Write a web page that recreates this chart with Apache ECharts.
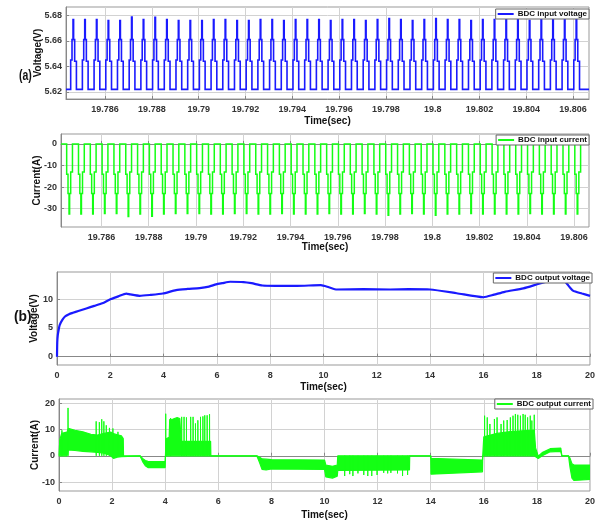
<!DOCTYPE html>
<html><head><meta charset="utf-8">
<script src="https://cdn.jsdelivr.net/npm/echarts@6/dist/echarts.min.js"></script>
<style>html,body{margin:0;padding:0;background:#fff}#c{width:598px;height:521px}</style>
</head><body><div id="c"></div>
<script>
// ---------- (a) input side: switching pulses ----------
const pulseTimes = [19.78453,19.78503,19.78553,19.78603,19.78653,19.78703,19.78753,19.78803,19.78853,19.78903,
 19.78953,19.79003,19.79053,19.79103,19.79153,19.79203,19.79253,19.79303,19.79353,19.79403,
 19.79453,19.79503,19.79553,19.79603,19.79653,19.79703,19.79753,19.79803,19.79853,19.79903,
 19.79953,19.80003,19.80053,19.80103,19.80153,19.80203,19.80253,19.80303,19.80353,19.80403,
 19.80453,19.80503,19.80553,19.80603];
const vPeaks = [5.6766,5.6766,5.6766,5.6758,5.6758,5.6787,5.6766,5.6784,5.6766,5.6758,
 5.6758,5.6758,5.6766,5.6766,5.6758,5.6758,5.6766,5.6766,5.6758,5.6766,
 5.6766,5.6766,5.6758,5.6766,5.6766,5.6758,5.6766,5.6775,5.6766,5.6758,
 5.6766,5.6775,5.6766,5.6766,5.6758,5.6766,5.6766,5.6766,5.6766,5.6758,
 5.6766,5.6766,5.6766,5.6766];
const iPeaks = [-32.5,-32.5,-32.5,-32.3,-32.3,-33.6,-32.5,-33.5,-32.5,-32.3,
 -32.3,-32.3,-32.5,-32.5,-32.3,-32.3,-32.5,-32.5,-32.3,-32.5,
 -32.5,-32.5,-32.3,-32.5,-32.5,-32.3,-32.5,-33.0,-32.5,-32.3,
 -32.5,-33.0,-32.5,-32.5,-32.3,-32.5,-32.5,-32.5,-32.5,-32.3,
 -32.5,-32.5,-32.5,-32.5];
// one pulse shape: offsets (ms) and levels; null = that pulse's peak
const shapeOffsetsMs = [0, 0, 0.057, 0.057, 0.10, 0.10, 0.125, 0.125, 0.17, 0.17, 0.245, 0.245];
const vShapeLevels = [5.622, 5.645, 5.645, 5.661, 5.661, null, null, 5.661, 5.661, 5.644, 5.644, 5.622];
const iShapeLevels = [0, -14, -14, -23, -23, null, null, -23, -23, -13, -13, 0];
const vBase = 5.622, iBase = 0;
const xTicksA = [19.786,19.788,19.79,19.792,19.794,19.796,19.798,19.8,19.802,19.804,19.806];
const vTicks = [5.62,5.64,5.66,5.68];
const iTicks = [-30,-20,-10,0];

// ---------- (b) output side over 0..20 s ----------
const outVt = [0,0.01,0.03,0.06,0.1,0.2,0.3,0.45,0.6,0.8,1.1,1.4,1.7,2.0,2.3,2.6,2.75,3.1,3.5,3.97,4.47,4.9,5.35,5.7,5.97,6.2,6.5,7.0,7.3,7.71,8.2,9.0,9.9,10.2,10.5,11.5,12.5,13.2,14.0,15.0,16.0,16.4,16.8,17.5,18.05,18.4,18.7,19.0,19.15,19.36,19.7,20];
const outVv = [0,2.5,3.8,4.6,5.5,6.4,7.0,7.4,7.65,7.95,8.4,8.85,9.3,10.0,10.5,11.0,10.85,10.6,10.75,11.0,11.6,11.8,11.95,12.2,12.6,12.8,13.05,13.0,12.8,12.4,12.35,12.35,12.45,12.1,11.7,11.75,11.7,11.75,11.7,11.05,10.35,10.8,11.3,11.9,12.65,13.1,13.5,13.4,12.6,11.5,11.0,10.6];

// output current: noisy band envelope (time, lower, upper)
const envT  = [0,0.03,0.1,0.3,0.35,0.6,0.9,1.2,1.45,1.7,1.95,2.05,2.2,2.35,2.42,2.43,3.05,3.15,3.25,3.35,4.0,4.01,4.03,4.15,4.17,4.3,4.45,4.55,4.6,5.71,5.72,7.45,7.55,7.65,7.8,8.0,10.0,10.05,10.3,10.48,10.5,13.2,13.21,14.0,14.01,15.95,15.96,16.0,16.5,17.0,17.9,17.95,18.05,18.2,18.5,18.9,18.94,19.19,19.25,19.32,19.4,20];
const envLo = [0,0,0,0,2.2,2.0,1.7,1.5,1.3,1.0,0.0,-1.0,-0.5,-0.3,0,0,0,-2.2,-3.8,-4.5,-4.5,0,0,0,0,0,0,0,0,0,0,0,-2.5,-5.2,-5.4,-5.0,-5.2,-8.0,-8.5,-7.8,-5.6,-5.4,0,0,-7.0,-6.1,0,0,0,0,0,-0.5,-1.0,0.0,1.5,1.7,0,0,-4.5,-8.5,-9.4,-9.0];
const envHi = [0,6,8.5,9.0,10.4,9.7,9.1,8.2,7.9,8.5,9.0,8.4,8.0,7.6,6.5,0,0,-1.0,-1.8,-2.1,-2.2,0,6.5,7.0,13.8,14.0,14.5,14.2,5.5,5.5,0,0,-0.5,-1.2,-1.3,-1.5,-1.6,-3.5,-4.0,-3.5,0,0,0,0,-1.0,-1.6,0,7.2,8.5,9.2,9.8,3.0,-0.2,1.2,2.7,2.9,0,0,-1.0,-3.0,-3.5,-3.5];
// spikes: time and peak value
const spikeT = [0.11,0.34,1.40,1.52,1.61,1.69,1.78,1.90,2.03,2.22,4.02,4.2,4.62,4.71,4.80,4.96,5.05,5.14,5.23,5.33,5.42,5.49,5.58,5.67,
 10.76,10.95,11.07,11.26,11.48,11.63,11.78,11.98,12.23,12.38,12.5,12.75,12.94,13.13,
 16.03,16.13,16.23,16.40,16.50,16.65,16.75,16.88,17.00,17.10,17.19,17.28,17.38,17.48,17.56,17.65,17.75,17.81,17.90];
const spikeV = [9.7,18.2,13.1,12.8,13.9,13.1,11.6,10.6,10.4,9.1,16.0,14.3,14.8,14.8,14.6,14.8,14.8,12.3,13.5,14.8,15.0,15.4,15.4,15.8,
 -7.7,-7.0,-7.7,-6.7,-7.3,-7.7,-7.7,-7.3,-6.5,-6.7,-6.5,-6.7,-7.7,-7.3,
 15.25,14.6,12.1,14.0,14.6,12.1,13.4,13.6,14.6,15.25,15.9,15.6,15.25,15.9,15.6,14.6,15.25,13.4,15.6];

const BLUE = '#1a1aff', GREEN = '#14ff14';
const FF = 'Liberation Sans, Arial, sans-serif';

function pulseTrain(levels, peaks, base, xmin, xmax) {
  const pts = [[xmin, base]];
  pulseTimes.forEach((t0, k) => {
    shapeOffsetsMs.forEach((o, j) => {
      const lv = levels[j] === null ? peaks[k] : levels[j];
      pts.push([t0 + o / 1000, lv]);
    });
  });
  pts.push([xmax, base]);
  return pts;
}

const xA0 = [19.78433, 19.80668], xA1 = [19.78429, 19.80663];
const vData = pulseTrain(vShapeLevels, vPeaks, vBase, xA0[0], xA0[1]);
const iData = pulseTrain(iShapeLevels, iPeaks, iBase, xA1[0], xA1[1]);
const outVData = outVt.map((t, i) => [t, outVv[i]]);
const loData = envT.map((t, i) => [t, envLo[i]]);
const hiData = envT.map((t, i) => [t, envHi[i]]);
const spikeData = [];
spikeT.forEach((t, i) => { spikeData.push([t, 0], [t, spikeV[i]], [t + 0.004, spikeV[i]], [t + 0.004, 0], [t + 0.004, '-']); });

const labelStyle = {color: '#333', fontWeight: 'bold', fontSize: 9, fontFamily: FF};
const nameStyle = {color: '#111', fontWeight: 'bold', fontSize: 10, fontFamily: FF};
const gridLine = {show: true, lineStyle: {color: '#d2d2d2', width: 1}};
const axLine = {show: true, lineStyle: {color: '#888'}};

function xAx(idx, range, ticks, fmt, gap) {
  const o = {type: 'value', gridIndex: idx, min: range[0], max: range[1],
    name: 'Time(sec)', nameLocation: 'middle', nameGap: gap, nameMoveOverlap: false, nameTextStyle: nameStyle,
    axisLine: axLine, splitLine: gridLine,
    axisTick: {show: true, inside: true, length: 3, lineStyle: {color: '#888'}},
    axisLabel: Object.assign({margin: 6, formatter: fmt}, labelStyle)};
  if (ticks) { o.axisTick.customValues = ticks; o.axisLabel.customValues = ticks; }
  else { o.interval = 2; }
  return o;
}
function yAx(idx, range, ticks, fmt, name, gap) {
  return {type: 'value', gridIndex: idx, min: range[0], max: range[1],
    name: name, nameLocation: 'middle', nameGap: gap, nameMoveOverlap: false, nameRotate: 90, nameTextStyle: nameStyle,
    axisLine: axLine, splitLine: gridLine,
    axisTick: {show: true, inside: true, length: 3, customValues: ticks, lineStyle: {color: '#888'}},
    axisLabel: Object.assign({margin: 4, customValues: ticks, formatter: fmt}, labelStyle)};
}
const fmtA = v => String(parseFloat((+v).toFixed(3)));
const fmtInt = v => String(Math.round(v));

const legendBase = {orient: 'horizontal', backgroundColor: '#fff', borderColor: '#666', borderWidth: 1,
  padding: [1, 2, 1, 2], itemWidth: 16, itemHeight: 2, icon: 'rect', itemGap: 3,
  textStyle: {color: '#111', fontWeight: 'bold', fontSize: 8, fontFamily: FF, padding: [0, 0, 0, -1]}};

// polyline through the library's coordinate system (no segment merging)
function traceSeries(name, xi, data, color, width) {
  return {name: name, type: 'custom', xAxisIndex: xi, yAxisIndex: xi, data: [[data[0][0], data[0][1]]],
    itemStyle: {color: color}, z: 3,
    renderItem: (params, api) => ({type: 'polyline', shape: {points: data.map(p => api.coord(p))},
      style: {stroke: color, lineWidth: width, fill: null}})};
}

const option = {
  animation: false,
  backgroundColor: '#fff',
  grid: [
    {left: 66, top: 7, width: 523, height: 92, show: true, borderColor: '#999', borderWidth: 1},
    {left: 61, top: 134, width: 528, height: 93, show: true, borderColor: '#999', borderWidth: 1},
    {left: 57, top: 272, width: 535, height: 93, show: true, borderColor: '#999', borderWidth: 1},
    {left: 59, top: 399, width: 534, height: 92, show: true, borderColor: '#999', borderWidth: 1}
  ],
  xAxis: [
    xAx(0, xA0, xTicksA, fmtA, 17),
    xAx(1, xA1, xTicksA, fmtA, 15),
    xAx(2, [0, 20], null, fmtInt, 17),
    xAx(3, [0, 20], null, fmtInt, 19)
  ],
  yAxis: [
    yAx(0, [5.6145, 5.6865], vTicks, v => (+v).toFixed(2), 'Voltage(V)', 23),
    yAx(1, [-38.5, 4.6], iTicks, fmtInt, 'Current(A)', 19),
    yAx(2, [-1.45, 14.75], [0, 5, 10], fmtInt, 'Voltage(V)', 18),
    yAx(3, [-13.4, 21.6], [-10, 0, 10, 20], fmtInt, 'Current(A)', 19)
  ],
  legend: [
    Object.assign({}, legendBase, {data: ['BDC input voltage'], right: 9, top: 9}),
    Object.assign({}, legendBase, {data: ['BDC input current'], right: 9, top: 135}),
    Object.assign({}, legendBase, {data: ['BDC output voltage'], right: 6, top: 273}),
    Object.assign({}, legendBase, {data: ['BDC output current'], right: 5, top: 399})
  ],
  graphic: [
    {type: 'text', x: 19, y: 76, scaleX: 0.7, style: {text: '(a)', fontSize: 15, fontWeight: 'bold', fontFamily: FF, fill: '#111', align: 'left', verticalAlign: 'middle'}},
    {type: 'text', x: 14, y: 317, scaleX: 0.92, style: {text: '(b)', fontSize: 15, fontWeight: 'bold', fontFamily: FF, fill: '#111', align: 'left', verticalAlign: 'middle'}}
  ],
  series: [
    traceSeries('BDC input voltage', 0, vData, BLUE, 1.6),
    traceSeries('BDC input current', 1, iData, GREEN, 1.5),
    {name: 'BDC output voltage', type: 'line', xAxisIndex: 2, yAxisIndex: 2, data: outVData, showSymbol: false, smooth: 0.2,
      lineStyle: {color: BLUE, width: 2.2}, itemStyle: {color: BLUE}},
    {name: 'band', type: 'custom', xAxisIndex: 3, yAxisIndex: 3, data: [[0, 0]], silent: true, z: 2,
      renderItem: (params, api) => {
        const pts = hiData.map(p => api.coord(p)).concat(loData.slice().reverse().map(p => api.coord(p)));
        return {type: 'polygon', shape: {points: pts}, style: {fill: GREEN, stroke: null}};
      }},
    {name: 'hi', type: 'line', xAxisIndex: 3, yAxisIndex: 3, data: hiData, showSymbol: false, z: 3,
      lineStyle: {color: GREEN, width: 1.2}},
    {name: 'lo', type: 'line', xAxisIndex: 3, yAxisIndex: 3, data: loData, showSymbol: false, z: 3,
      lineStyle: {color: GREEN, width: 1.2}},
    {name: 'BDC output current', type: 'line', xAxisIndex: 3, yAxisIndex: 3, data: spikeData, showSymbol: false, z: 3,
      connectNulls: false, lineStyle: {color: GREEN, width: 1}, itemStyle: {color: GREEN}}
  ]
};
const chart = echarts.init(document.getElementById('c'), null, {renderer: 'canvas'});
chart.setOption(option);
</script></body></html>
